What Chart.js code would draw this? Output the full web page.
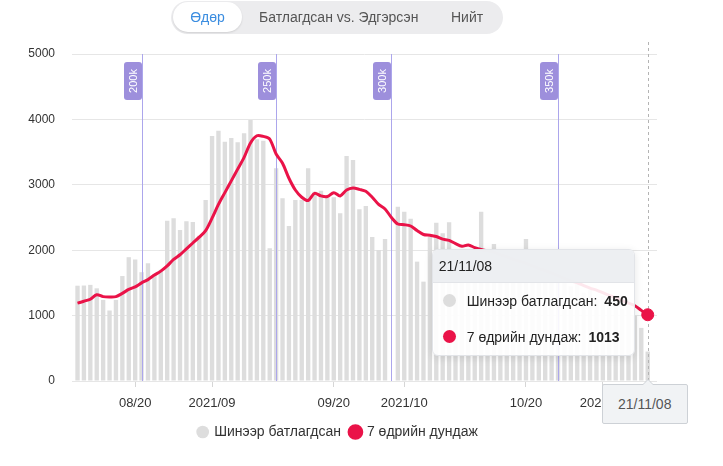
<!DOCTYPE html>
<html>
<head>
<meta charset="utf-8">
<script src="https://cdn.jsdelivr.net/npm/chart.js@4.4.0/dist/chart.umd.min.js"></script>
<style>
  html, body { margin: 0; padding: 0; background: #fff; }
  body { width: 723px; height: 466px; position: relative; overflow: hidden; font-family: "Liberation Sans", Arial, sans-serif; }
  #chart { position: absolute; left: 0; top: 0; }
  .tabs { position: absolute; left: 171px; top: 1px; width: 332px; height: 33px; border-radius: 17px; background: #ececee; }
  .tab { position: absolute; top: 0; height: 33px; line-height: 33px; font-size: 14px; color: #555; white-space: nowrap; }
  .tab.active { left: 2px; top: 1px; width: 69px; height: 30px; line-height: 30px; background: #fff; border-radius: 15px; color: #3b8de0; text-align: center; box-shadow: 0 1px 2px rgba(0,0,0,0.12); }
  #tip { position: absolute; width: 203px; height: 107px; box-sizing: border-box; background: rgba(255,255,255,0.9); border: 1px solid #e2e4e8; border-radius: 6px; box-shadow: 0 2px 8px rgba(0,0,0,0.10); overflow: hidden; display: none; }
  #tip .head { height: 32px; line-height: 32px; background: rgba(236,238,241,0.95); border-bottom: 1px solid #e2e4e8; padding-left: 6px; font-size: 14px; color: #222; }
  #tip .row { position: relative; height: 36px; line-height: 36px; font-size: 14px; color: #222; padding-left: 34px; white-space: nowrap; }
  #tip .row:first-of-type { margin-top: 2px; }
  #tip .dot { position: absolute; left: 10px; top: 11px; width: 13px; height: 13px; border-radius: 50%; }
  #tip b { margin-left: 7px; }
  #xlabel { position: absolute; width: 86px; height: 40px; box-sizing: border-box; background: #f1f3f5; border: 1px solid #cdd1d6; border-radius: 2px; text-align: center; line-height: 38px; font-size: 14px; color: #555; display: none; }
  #xlabel:before { content: ""; position: absolute; top: -6px; left: 39px; border-left: 6px solid transparent; border-right: 6px solid transparent; border-bottom: 6px solid #cdd1d6; }
  #xlabel:after { content: ""; position: absolute; top: -5px; left: 40px; border-left: 5px solid transparent; border-right: 5px solid transparent; border-bottom: 5px solid #f1f3f5; }
</style>
</head>
<body>
<canvas id="chart" width="723" height="466"></canvas>
<div class="tabs">
  <div class="tab active">Өдөр</div>
  <div class="tab" style="left:88px">Батлагдсан vs. Эдгэрсэн</div>
  <div class="tab" style="left:280px">Нийт</div>
</div>
<div id="tip">
  <div class="head" id="tipTitle"></div>
  <div class="row"><span class="dot" style="background:#dddddd"></span><span id="tipName0"></span><b id="tipVal0"></b></div>
  <div class="row"><span class="dot" style="background:#ea1348"></span><span id="tipName1"></span><b id="tipVal1"></b></div>
</div>
<div id="xlabel"></div>
<script>
// Өдөр тутмын огноо 2021/08/11 - 2021/11/08
const dates = [];
for (let i = 0; i < 90; i++) {
  const d = new Date(2021, 7, 11 + i);
  dates.push(String(d.getFullYear()).slice(2) + '/' + String(d.getMonth() + 1).padStart(2, '0') + '/' + String(d.getDate()).padStart(2, '0'));
}

const seriesNames = ['Шинээр батлагдсан', '7 өдрийн дундаж'];

const newCases = [
  1457, 1460, 1470, 1417, 1240, 1078, 1240, 1605, 1893, 1858,
  1664, 1800, 1630, 1700, 2452, 2487, 2309, 2441, 2431, 2220,
  2768, 3746, 3828, 3660, 3716, 3650, 3787, 3991, 3695, 3675,
  2029, 3252, 2793, 2370, 2768, 2768, 3252, 2895, 2910, 2808,
  2808, 2564, 3440, 3379, 2625, 2676, 2202, 2003, 2171, null,
  2665, 2589, 2482, 1825, 1519, 2207, 2421, 2258, 2426, 2000,
  1980, 1950, 1960, 2589, 1900, 2095, 1800, 1750, 1900, 1700,
  2171, 1650, 1600, 1700, 1500, 1550, 1600, 1450, 1500, 1350,
  1400, 1250, 1300, 1250, 1200, 1100, 1150, 1000, 812, 450
];

const avg7 = [
  1190, 1220, 1250, 1320, 1290, 1285, 1290, 1340, 1400, 1440,
  1500, 1550, 1620, 1680, 1760, 1860, 1930, 2020, 2110, 2200,
  2300, 2490, 2700, 2880, 3060, 3240, 3420, 3640, 3750, 3740,
  3700, 3470, 3330, 3100, 2920, 2810, 2760, 2870, 2830, 2820,
  2880, 2830, 2920, 2950, 2930, 2900, 2810, 2700, 2630, 2500,
  2400, 2390, 2370, 2300, 2240, 2230, 2210, 2170, 2150, 2100,
  2060, 2080, 2040, 2010, 1990, 1970, 1930, 1900, 1860, 1830,
  1800, 1760, 1720, 1690, 1650, 1610, 1570, 1530, 1500, 1460,
  1420, 1390, 1350, 1310, 1270, 1230, 1190, 1150, 1080, 1013
];

// Нийт тохиолдлын босго
const milestoneLabels = ['200k', '250k', '300k', '350k'];
const milestoneDates = ['21/08/21', '21/09/11', '21/09/29', '21/10/25'];

// Тэнхлэгийн шошго
const tickDates = ['21/08/20', '21/09/01', '21/09/20', '21/10/01', '21/10/20', '21/11/01'];
const tickLabels = ['08/20', '2021/09', '09/20', '2021/10', '10/20', '2021/11'];

const yTicks = [0, 1000, 2000, 3000, 4000, 5000];

const RED = '#ea1348';
const GRAY = '#dddddd';

// Босго шугам ба hover-ын тасархай шугам (баганын дараа, шугамын өмнө)
const milestonePlugin = {
  id: 'milestones',
  afterDatasetDraw(chart, args) {
    if (args.index !== 0) return;
    const { ctx, chartArea, scales } = chart;
    ctx.save();
    milestoneDates.forEach(function(d, k) {
      const x = Math.round(scales.x.getPixelForValue(dates.indexOf(d))) + 0.5;
      ctx.strokeStyle = '#aca6ec';
      ctx.lineWidth = 1;
      ctx.beginPath();
      ctx.moveTo(x, chartArea.top);
      ctx.lineTo(x, chartArea.bottom);
      ctx.stroke();
      const w = 18, h = 38, top = chartArea.top + 8;
      ctx.fillStyle = '#9d8fdc';
      ctx.beginPath();
      ctx.roundRect(x - 0.5 - w, top, w, h, 3);
      ctx.fill();
      ctx.save();
      ctx.translate(x - 0.5 - w / 2, top + h / 2);
      ctx.rotate(-Math.PI / 2);
      ctx.fillStyle = '#ffffff';
      ctx.font = '11px "Liberation Sans", Arial, sans-serif';
      ctx.textAlign = 'center';
      ctx.textBaseline = 'middle';
      ctx.fillText(milestoneLabels[k], 0, 1);
      ctx.restore();
    });
    const act = chart.getActiveElements();
    if (act.length) {
      const x = Math.round(act[0].element.x) + 0.5;
      ctx.strokeStyle = '#b4b4b4';
      ctx.setLineDash([3, 3]);
      ctx.beginPath();
      ctx.moveTo(x, 42);
      ctx.lineTo(x, chartArea.bottom);
      ctx.stroke();
    }
    ctx.restore();
  }
};

// HTML tooltip
const tipPlugin = {
  id: 'htmlTip',
  afterDraw(chart) {
    const tip = document.getElementById('tip');
    const xl = document.getElementById('xlabel');
    const act = chart.getActiveElements();
    if (!act.length) { tip.style.display = 'none'; xl.style.display = 'none'; return; }
    const i = act[0].index;
    const pt = chart.getDatasetMeta(1).data[i];
    document.getElementById('tipTitle').textContent = dates[i];
    document.getElementById('tipName0').textContent = seriesNames[0] + ':';
    document.getElementById('tipName1').textContent = seriesNames[1] + ':';
    document.getElementById('tipVal0').textContent = newCases[i];
    document.getElementById('tipVal1').textContent = avg7[i];
    tip.style.display = 'block';
    tip.style.left = (pt.x - 13 - 203) + 'px';
    tip.style.top = (pt.y - 66) + 'px';
    xl.textContent = dates[i];
    xl.style.display = 'block';
    xl.style.left = (pt.x - 46) + 'px';
    xl.style.top = (chart.chartArea.bottom + 3) + 'px';
  }
};

const ctx = document.getElementById('chart');
const chart = new Chart(ctx, {
  type: 'bar',
  data: {
    datasets: [
      {
        type: 'bar',
        label: seriesNames[0],
        data: newCases.map(function(v, i) { return { x: i, y: v }; }),
        backgroundColor: GRAY,
        hoverBackgroundColor: GRAY,
        borderWidth: 0,
        categoryPercentage: 1,
        barPercentage: 0.68,
        order: 1
      },
      {
        type: 'line',
        label: seriesNames[1],
        data: avg7.map(function(v, i) { return { x: i, y: v }; }),
        borderColor: RED,
        backgroundColor: RED,
        borderWidth: 3,
        tension: 0.3,
        pointRadius: 0,
        pointHoverRadius: 6,
        pointHoverBackgroundColor: RED,
        pointHoverBorderColor: RED,
        pointHoverBorderWidth: 1,
        fill: false,
        order: 0
      }
    ]
  },
  options: {
    responsive: false,
    animation: false,
    events: [],
    layout: { padding: { top: 54, left: 19, right: 66, bottom: 17 } },
    font: { family: '"Liberation Sans", Arial, sans-serif' },
    plugins: {
      tooltip: { enabled: false },
      legend: {
        position: 'bottom',
        labels: {
          usePointStyle: true,
          pointStyle: 'circle',
          boxWidth: 9,
          boxHeight: 9,
          padding: 10,
          color: '#333',
          font: { size: 14, family: '"Liberation Sans", Arial, sans-serif' },
          sort: function(a, b) { return a.datasetIndex - b.datasetIndex; }
        }
      }
    },
    scales: {
      x: {
        type: 'linear',
        offset: false,
        min: -0.86,
        max: 90.45,
        afterFit: function(scale) { scale.height = 34; },
        afterBuildTicks: function(scale) {
          scale.ticks = tickDates.map(function(d) { return { value: dates.indexOf(d) }; });
        },
        ticks: {
          autoSkip: false,
          maxRotation: 0,
          padding: 9,
          color: '#333',
          font: { size: 13, family: '"Liberation Sans", Arial, sans-serif' },
          callback: function(v) { return tickLabels[tickDates.indexOf(dates[v])]; }
        },
        grid: { display: true, offset: false, drawOnChartArea: false, drawTicks: true, tickLength: 6, color: '#d6d6d6' },
        border: { display: false }
      },
      y: {
        min: 0,
        max: 5000,
        afterFit: function(scale) { scale.width = 53; },
        afterBuildTicks: function(scale) {
          scale.ticks = yTicks.map(function(v) { return { value: v }; });
        },
        ticks: {
          padding: 17,
          color: '#333',
          font: { size: 12, family: '"Liberation Sans", Arial, sans-serif' },
          callback: function(v) { return String(v); }
        },
        grid: { color: '#e6e6e6', drawTicks: false },
        border: { display: false }
      }
    }
  },
  plugins: [milestonePlugin, tipPlugin]
});

const lastIndex = dates.length - 1;
chart.setActiveElements([
  { datasetIndex: 0, index: lastIndex },
  { datasetIndex: 1, index: lastIndex }
]);
chart.update();
</script>
</body>
</html>
